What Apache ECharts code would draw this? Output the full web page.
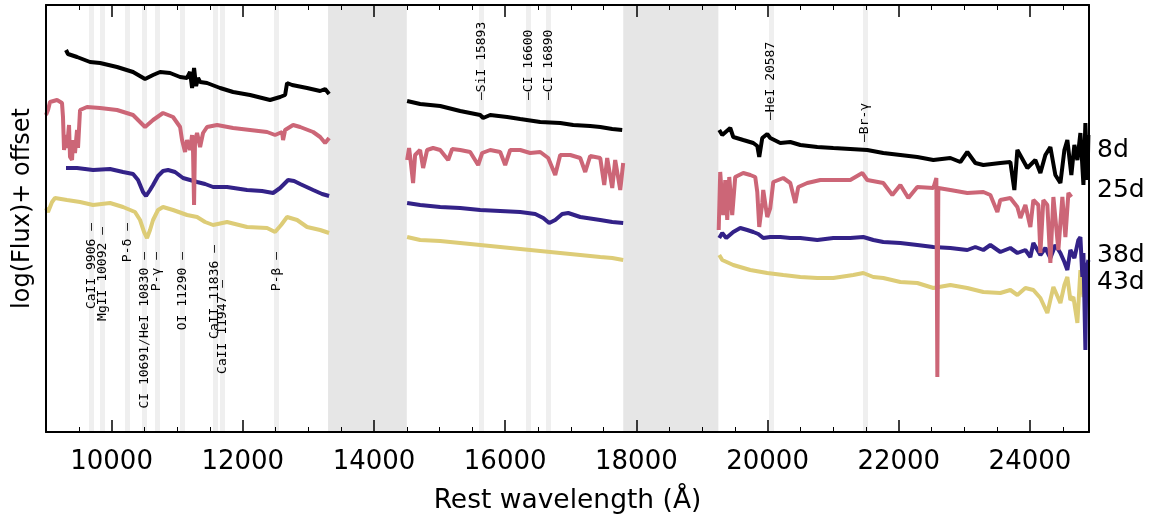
<!DOCTYPE html>
<html><head><meta charset="utf-8">
<script src="https://cdn.jsdelivr.net/npm/echarts@6/dist/echarts.min.js"></script>
<style>html,body{margin:0;padding:0;background:#fff}#c{width:1158px;height:524px}</style>
</head><body><div id="c"></div>
<script>
// ---------- axes ----------
const xMin = 9000, xMax = 24900, yMin = 0, yMax = 4.27;
const majorTicks = [10000, 12000, 14000, 16000, 18000, 20000, 22000, 24000];
const minorTicks = [9500, 10500, 11000, 11500, 12500, 13000, 13500, 14500, 15000, 15500, 16500, 17000, 17500,
  18500, 19000, 19500, 20500, 21000, 21500, 22500, 23000, 23500, 24500];

// ---------- telluric bands & line identifications ----------
const telluricBands = [[13300, 14500], [17800, 19250]];
const lineNames = ['CaII 9906 —', 'MgII 10092 —', 'P-δ —', 'CI 10691/HeI 10830 —', 'P-γ —', 'OI 11290 —',
  'CaII 11836 —', 'CaII 11947 —', 'P-β —', '—SiI 15893', '—CI 16600', '—CI 16890', '—HeI 20587', '—Br-γ'];
const lineWave = [9694, 9862, 10243, 10502, 10693, 11082, 11577, 11692, 12515, 15642, 16358, 16663, 20049, 21483];
const lineLabelLevel = [2.09, 2.05, 2.09, 1.80, 1.80, 1.80, 1.87, 1.52, 1.80, 3.32, 3.32, 3.32, 3.12, 2.90];
const lineLabelBelow = [true, true, true, true, true, true, true, true, true, false, false, false, false, false];

// ---------- epochs ----------
const epochNames = ['8d', '25d', '38d', '43d'];
const epochLabelLevel = [2.82, 2.42, 1.77, 1.50];
const epochColors = ['#000000', '#cc6677', '#332288', '#ddcc77'];

// ---------- spectra: [rest wavelength (Å), log(Flux)+offset] ----------
const s8a = [[9305,3.82],[9335,3.78],[9473,3.75],[9671,3.70],[9824,3.69],[10083,3.65],[10327,3.60],[10510,3.53],[10632,3.57],[10739,3.60],[10891,3.59],[11044,3.55],[11150,3.54],[11196,3.60],[11227,3.44],[11257,3.64],[11288,3.46],[11318,3.54],[11349,3.50],[11455,3.49],[11654,3.44],[11852,3.40],[12111,3.37],[12416,3.32],[12569,3.35],[12645,3.37],[12675,3.49],[12752,3.47],[12980,3.44],[13179,3.41],[13255,3.43],[13316,3.38]];
const s8b = [[14505,3.31],[14704,3.28],[15009,3.26],[15314,3.21],[15619,3.17],[15664,3.14],[15771,3.17],[16030,3.15],[16229,3.13],[16534,3.10],[16839,3.09],[17037,3.07],[17296,3.06],[17449,3.05],[17632,3.03],[17784,3.02]];
const s8c = [[19263,3.02],[19309,2.97],[19431,3.04],[19477,2.95],[19629,2.92],[19782,2.89],[19843,2.86],[19873,2.75],[19919,2.94],[19995,2.98],[20041,2.94],[20194,2.89],[20346,2.90],[20499,2.87],[20758,2.85],[21002,2.84],[21261,2.83],[21520,2.82],[21764,2.79],[22024,2.77],[22283,2.75],[22527,2.72],[22786,2.74],[22939,2.70],[23045,2.80],[23167,2.69],[23289,2.67],[23548,2.69],[23701,2.70],[23762,2.42],[23808,2.82],[23960,2.64],[24082,2.72],[24159,2.59],[24235,2.77],[24311,2.85],[24387,2.57],[24464,2.49],[24525,2.82],[24570,2.92],[24631,2.57],[24677,2.87],[24723,2.72],[24769,2.99],[24815,2.47],[24845,3.09],[24876,2.52],[24891,2.97]];

const s25a = [[9000,3.17],[9031,3.22],[9061,3.30],[9168,3.32],[9244,3.29],[9259,3.15],[9275,2.82],[9305,2.97],[9320,2.84],[9351,3.07],[9366,2.75],[9397,2.72],[9412,2.92],[9442,2.79],[9473,3.02],[9488,2.84],[9519,3.22],[9625,3.25],[9824,3.24],[10083,3.22],[10327,3.17],[10510,3.05],[10632,3.12],[10784,3.19],[10937,3.15],[11044,3.05],[11074,2.92],[11120,2.80],[11150,2.92],[11196,2.82],[11227,2.97],[11242,2.79],[11257,2.27],[11272,2.92],[11303,2.99],[11349,2.85],[11394,2.99],[11455,3.05],[11608,3.07],[11852,3.04],[12111,3.02],[12370,3.00],[12492,2.97],[12599,3.00],[12614,2.92],[12645,3.02],[12767,3.07],[12874,3.05],[13072,3.00],[13179,2.95],[13255,2.89],[13316,2.94]];
const s25b = [[14505,2.72],[14535,2.84],[14566,2.67],[14596,2.49],[14627,2.77],[14703,2.82],[14749,2.64],[14810,2.82],[14901,2.84],[15009,2.82],[15131,2.72],[15192,2.83],[15314,2.82],[15466,2.80],[15588,2.67],[15649,2.79],[15771,2.82],[15924,2.80],[16000,2.67],[16076,2.82],[16229,2.82],[16381,2.79],[16534,2.80],[16656,2.74],[16763,2.57],[16839,2.77],[16992,2.77],[17144,2.74],[17220,2.60],[17296,2.76],[17449,2.74],[17510,2.47],[17555,2.74],[17632,2.44],[17677,2.72],[17754,2.42],[17799,2.69]];
const s25c = [[19255,2.02],[19278,2.60],[19324,2.17],[19355,2.52],[19385,2.12],[19416,2.55],[19461,2.17],[19507,2.55],[19629,2.59],[19736,2.57],[19812,2.55],[19843,2.40],[19873,2.05],[19919,2.29],[19934,2.42],[19995,2.15],[20041,2.24],[20087,2.50],[20239,2.54],[20346,2.49],[20422,2.29],[20468,2.45],[20605,2.49],[20804,2.52],[21002,2.52],[21261,2.52],[21444,2.59],[21520,2.52],[21764,2.49],[21902,2.37],[22024,2.47],[22146,2.34],[22283,2.45],[22527,2.44],[22573,2.54],[22588,0.55],[22603,2.44],[22786,2.42],[23045,2.39],[23289,2.40],[23396,2.37],[23503,2.20],[23548,2.32],[23701,2.34],[23808,2.25],[23854,2.14],[23930,2.27],[24006,2.05],[24052,2.32],[24128,2.27],[24159,1.79],[24204,2.32],[24265,2.27],[24311,1.69],[24357,2.35],[24433,1.82],[24494,2.35],[24540,1.95],[24586,2.39],[24631,2.35]];

const s38a = [[9305,2.64],[9473,2.64],[9717,2.62],[9976,2.63],[10174,2.60],[10327,2.58],[10403,2.52],[10479,2.40],[10525,2.36],[10586,2.42],[10632,2.47],[10708,2.56],[10784,2.61],[10861,2.62],[10967,2.60],[11089,2.54],[11196,2.52],[11303,2.50],[11425,2.48],[11547,2.45],[11760,2.45],[12065,2.42],[12294,2.41],[12462,2.39],[12569,2.44],[12691,2.52],[12782,2.51],[12874,2.48],[13072,2.42],[13209,2.38],[13316,2.36]];
const s38b = [[14505,2.29],[14704,2.27],[15009,2.25],[15314,2.24],[15619,2.22],[15924,2.21],[16229,2.20],[16458,2.18],[16580,2.14],[16671,2.09],[16763,2.12],[16869,2.18],[16961,2.19],[17144,2.15],[17449,2.12],[17632,2.10],[17799,2.09]];
const s38c = [[19263,1.94],[19309,1.99],[19370,1.94],[19477,2.00],[19584,2.04],[19690,2.02],[19782,2.00],[19858,1.98],[19934,1.94],[20041,1.95],[20194,1.95],[20346,1.94],[20499,1.94],[20758,1.92],[21002,1.94],[21261,1.94],[21459,1.95],[21612,1.92],[21764,1.90],[22024,1.89],[22283,1.87],[22527,1.85],[22786,1.84],[23045,1.82],[23167,1.85],[23289,1.82],[23396,1.87],[23548,1.80],[23701,1.84],[23808,1.79],[23930,1.82],[24006,1.75],[24052,1.89],[24159,1.77],[24235,1.84],[24311,1.74],[24387,1.87],[24464,1.79],[24525,1.70],[24570,1.62],[24616,1.82],[24677,1.74],[24738,1.92],[24769,1.95],[24799,1.55],[24815,1.79],[24845,0.82],[24860,1.62],[24891,1.72]];

const s43a = [[9000,2.24],[9031,2.20],[9092,2.30],[9137,2.34],[9320,2.32],[9519,2.30],[9717,2.27],[9976,2.29],[10174,2.25],[10357,2.20],[10434,2.12],[10495,2.00],[10540,1.94],[10586,2.02],[10632,2.12],[10708,2.22],[10784,2.25],[10937,2.22],[11150,2.17],[11303,2.15],[11425,2.10],[11547,2.07],[11760,2.10],[12065,2.05],[12370,2.04],[12492,2.00],[12584,2.07],[12675,2.15],[12828,2.12],[12980,2.05],[13179,2.02],[13316,1.99]];
const s43b = [[14505,1.95],[14704,1.92],[15009,1.91],[15314,1.89],[15619,1.87],[15924,1.85],[16229,1.83],[16534,1.81],[16839,1.79],[17144,1.77],[17449,1.75],[17632,1.74],[17799,1.72]];
const s43c = [[19263,1.77],[19309,1.72],[19477,1.67],[19736,1.62],[19995,1.59],[20239,1.57],[20499,1.55],[20758,1.54],[21002,1.54],[21307,1.57],[21459,1.59],[21612,1.55],[21764,1.54],[22024,1.50],[22283,1.49],[22527,1.44],[22786,1.47],[23045,1.44],[23289,1.40],[23548,1.39],[23701,1.42],[23808,1.37],[23930,1.44],[24052,1.42],[24159,1.34],[24265,1.19],[24357,1.45],[24464,1.29],[24525,1.47],[24570,1.55],[24616,1.32],[24662,1.35],[24723,1.09],[24769,1.62],[24815,1.35],[24845,1.47],[24876,1.65]];

const spectra = [[s8a, s8b, s8c], [s25a, s25b, s25c], [s38a, s38b, s38c], [s43a, s43b, s43c]];

function joinSegments(segs) {
  const out = [];
  segs.forEach((s, i) => {
    if (i > 0) out.push([(segs[i - 1][segs[i - 1].length - 1][0] + s[0][0]) / 2, null]);
    s.forEach(p => out.push(p));
  });
  return out;
}

const FONT = 'DejaVu Sans';
const chart = echarts.init(document.getElementById('c'), null, { renderer: 'canvas' });

const axisBase = { type: 'value', min: xMin, max: xMax, splitLine: { show: false }, z: 20 };
const xAxes = [
  Object.assign({}, axisBase, {
    position: 'bottom',
    axisLine: { show: true, lineStyle: { color: '#000', width: 2 } },
    axisTick: { show: true, inside: true, length: 12, customValues: majorTicks, lineStyle: { color: '#000', width: 1.5 } },
    axisLabel: { show: true, customValues: majorTicks, formatter: v => String(v), fontSize: 26, color: '#000', fontFamily: FONT, margin: 17 },
    name: 'Rest wavelength (Å)', nameLocation: 'middle', nameGap: 56,
    nameTextStyle: { fontSize: 26.5, color: '#000', fontFamily: FONT }
  }),
  Object.assign({}, axisBase, {
    position: 'bottom',
    axisLine: { show: false },
    axisTick: { show: true, inside: true, length: 5, customValues: minorTicks, lineStyle: { color: '#000', width: 1 } },
    axisLabel: { show: false }
  }),
  Object.assign({}, axisBase, {
    position: 'top',
    axisLine: { show: true, lineStyle: { color: '#000', width: 2 } },
    axisTick: { show: true, inside: true, length: 12, customValues: majorTicks, lineStyle: { color: '#000', width: 1.5 } },
    axisLabel: { show: false }
  }),
  Object.assign({}, axisBase, {
    position: 'top',
    axisLine: { show: false },
    axisTick: { show: true, inside: true, length: 5, customValues: minorTicks, lineStyle: { color: '#000', width: 1 } },
    axisLabel: { show: false }
  })
];
const yBase = { type: 'value', min: yMin, max: yMax, splitLine: { show: false }, axisTick: { show: false }, axisLabel: { show: false }, z: 20,
  axisLine: { show: true, lineStyle: { color: '#000', width: 2 } } };
const yAxes = [
  Object.assign({}, yBase, { position: 'left', name: 'log(Flux)+ offset', nameLocation: 'middle', nameGap: 11, nameRotate: 90,
    nameTextStyle: { fontSize: 24, color: '#000', fontFamily: FONT, padding: [0, 0, 0, 20] } }),
  Object.assign({}, yBase, { position: 'right' })
];

const series = [];
// background: telluric bands and line markers
series.push({
  type: 'line', data: [[xMin, yMin], [xMax, yMin]], lineStyle: { opacity: 0 }, symbol: 'none', silent: true, z: 1,
  markArea: { silent: true, z: 1, itemStyle: { color: '#e6e6e6' }, data: telluricBands.map(b => [{ xAxis: b[0] }, { xAxis: b[1] }]) },
  markLine: { silent: true, z: 1, symbol: 'none', label: { show: false }, lineStyle: { color: '#efefef', width: 5, type: 'solid' },
    data: lineWave.map(w => ({ xAxis: w })) }
});
// spectra (drawn latest-epoch first so earlier epochs lie on top)
for (let i = spectra.length - 1; i >= 0; i--) {
  series.push({
    type: 'line', name: epochNames[i], data: joinSegments(spectra[i]), symbol: 'none', showSymbol: false,
    connectNulls: false, lineStyle: { color: epochColors[i], width: 4 }, z: 10, silent: true
  });
}
// line identification labels
series.push({
  type: 'scatter', symbolSize: 0, clip: false, silent: true, z: 12, itemStyle: { opacity: 1 },
  data: lineNames.map((n, i) => ({
    value: [lineWave[i], lineLabelLevel[i]], name: n,
    label: { align: lineLabelBelow[i] ? 'right' : 'left' }
  })),
  label: { show: true, position: 'inside', rotate: 90, verticalAlign: 'middle', formatter: p => p.name,
    fontFamily: 'DejaVu Sans Mono', fontSize: 13, color: '#000', opacity: 1 }
});
// epoch labels at right
series.push({
  type: 'scatter', symbolSize: 0, clip: false, silent: true, z: 12, itemStyle: { opacity: 1 },
  data: epochNames.map((n, i) => ({ value: [xMax, epochLabelLevel[i]], name: n })),
  label: { show: true, position: 'inside', align: 'left', verticalAlign: 'middle', offset: [8, 0], formatter: p => p.name,
    fontFamily: FONT, fontSize: 25, color: '#000', opacity: 1, textBorderWidth: 0 }
});

chart.setOption({
  animation: false,
  backgroundColor: '#fff',
  grid: { left: 46, right: 69, top: 5, bottom: 92, containLabel: false, show: false },
  xAxis: xAxes,
  yAxis: yAxes,
  series: series
});
</script></body></html>
